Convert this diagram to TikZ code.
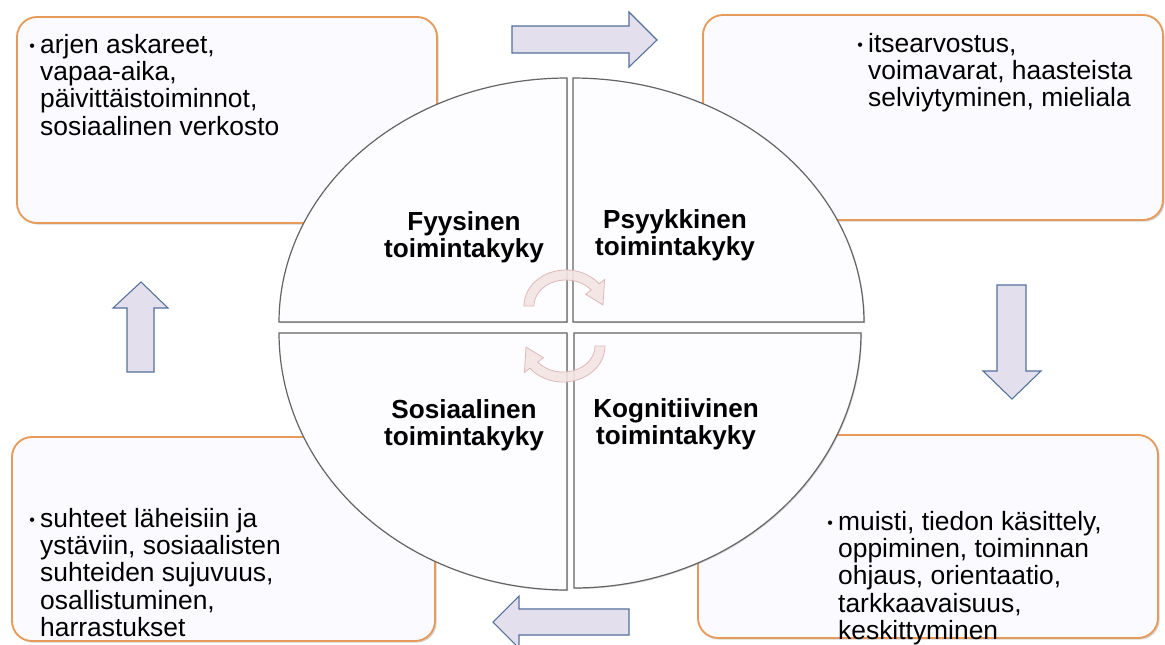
\documentclass[tikz,border=0pt]{standalone}
\usepackage{fontspec}
\setmainfont{Liberation Sans}
\usetikzlibrary{shadows}
\definecolor{boxfill}{RGB}{251,250,254}
\definecolor{boxline}{RGB}{230,155,90}
\definecolor{arrfill}{RGB}{227,223,236}
\definecolor{arrline}{RGB}{84,112,156}
\definecolor{quadline}{RGB}{100,100,100}
\definecolor{quadfill}{RGB}{253,252,255}
\definecolor{cycfill}{RGB}{245,228,228}
\definecolor{cycline}{RGB}{220,185,185}
\newcommand{\blt}{\raisebox{1pt}{\fontsize{12}{12}\selectfont\textbullet}}
\begin{document}
\begin{tikzpicture}[x=0.75pt,y=-0.75pt,
  infobox/.style={draw=boxline, line width=1.4pt, fill=boxfill, rounded corners=15pt,
    drop shadow={shadow xshift=1.2pt,shadow yshift=-1.2pt,opacity=0.35}},
  blockarrow/.style={draw=arrline, fill=arrfill, line width=0.8pt, line join=miter},
  quad/.style={draw=quadline, fill=quadfill, line width=0.9pt,
    drop shadow={shadow xshift=0.8pt, shadow yshift=-0.8pt, opacity=0.3}},
  cyc/.style={draw=cycline, fill=cycfill, line width=0.6pt, fill opacity=0.9},
  bodytext/.style={anchor=base west, inner sep=0pt, font=\fontsize{19.8}{20.6}\selectfont},
  quadlabel/.style={align=center, inner sep=0pt, font=\bfseries\fontsize{19.6}{20.4}\selectfont}
]
\useasboundingbox[fill=white] (0,0) rectangle (1165,644);

% outer boxes
\path[infobox] (17,17) rectangle (437,223);
\path[infobox] (703,15) rectangle (1163,220);
\path[infobox] (12,437) rectangle (435,641);
\path[infobox] (698,435) rectangle (1158,638);

% box texts
\node[bodytext] (tlt) at (29,53) {\begin{tabular}[t]{@{}l@{\hspace{4pt}}l@{}}\blt&arjen askareet,\\&vapaa-aika,\\&päivittäistoiminnot,\\&sosiaalinen verkosto\end{tabular}};
\node[bodytext] (trt) at (857,52) {\begin{tabular}[t]{@{}l@{\hspace{4pt}}l@{}}\blt&itsearvostus,\\&voimavarat, haasteista\\&selviytyminen, mieliala\end{tabular}};
\node[bodytext] (blt) at (29,527) {\begin{tabular}[t]{@{}l@{\hspace{4pt}}l@{}}\blt&suhteet läheisiin ja\\&ystäviin, sosiaalisten\\&suhteiden sujuvuus,\\&osallistuminen,\\&harrastukset\end{tabular}};
\node[bodytext] (brt) at (827,530) {\begin{tabular}[t]{@{}l@{\hspace{4pt}}l@{}}\blt&muisti, tiedon käsittely,\\&oppiminen, toiminnan\\&ohjaus, orientaatio,\\&tarkkaavaisuus,\\&keskittyminen\end{tabular}};

% block arrows
\path[blockarrow] (512,26) -- (629,26) -- (629,12) -- (657,40) -- (629,67) -- (629,53) -- (512,53) -- cycle;
\path[blockarrow] (997,285) -- (1026,285) -- (1026,371) -- (1041,371) -- (1012,399) -- (983,371) -- (997,371) -- cycle;
\path[blockarrow] (629,609) -- (519,609) -- (519,596) -- (493,622) -- (519,648) -- (519,635) -- (629,635) -- cycle;
\path[blockarrow] (127,372) -- (127,308) -- (113,308) -- (141,282) -- (168,308) -- (154,308) -- (154,372) -- cycle;

% quadrants
\path[quad] (567,322) -- (279,322) -- plot[domain=0:90, samples=60] ({567-288*cos(\x)},{322-244*sin(\x)}) -- cycle;
\path[quad] (573,322) -- (864,322) -- plot[domain=0:90, samples=60] ({573+291*cos(\x)},{322-244*sin(\x)}) -- cycle;
\path[quad] (567,333) -- (279,333) -- plot[domain=0:90, samples=60] ({567-288*cos(\x)},{333+257*sin(\x)}) -- cycle;
\path[quad] (574,333) -- (861,333) -- plot[domain=0:90, samples=60] ({574+287*cos(\x)},{333+255*sin(\x)}) -- cycle;

% labels
\node[quadlabel] (fys) at (464,237) {Fyysinen\\toimintakyky};
\node[quadlabel] (psy) at (675,235) {Psyykkinen\\toimintakyky};
\node[quadlabel] (sos) at (464,425) {Sosiaalinen\\toimintakyky};
\node[quadlabel] (kog) at (676,424) {Kognitiivinen\\toimintakyky};

% cycle arrows
\path[cyc] plot[domain=180:38, samples=40] ({566+42*cos(\x)},{306-36*sin(\x)})
  -- ({566+49*cos(38)},{306-43*sin(38)})
  -- ({566+37*cos(2)},{306-31*sin(2)})
  -- ({566+25*cos(38)},{306-19*sin(38)})
  -- plot[domain=38:180, samples=40] ({566+32*cos(\x)},{306-26*sin(\x)}) -- cycle;
\path[cyc] plot[domain=0:-142, samples=40] ({563+42*cos(\x)},{346-36*sin(\x)})
  -- ({563+49*cos(-142)},{346-43*sin(-142)})
  -- ({563+37*cos(-178)},{346-31*sin(-178)})
  -- ({563+25*cos(-142)},{346-19*sin(-142)})
  -- plot[domain=-142:0, samples=40] ({563+32*cos(\x)},{346-26*sin(\x)}) -- cycle;
\end{tikzpicture}
\end{document}
